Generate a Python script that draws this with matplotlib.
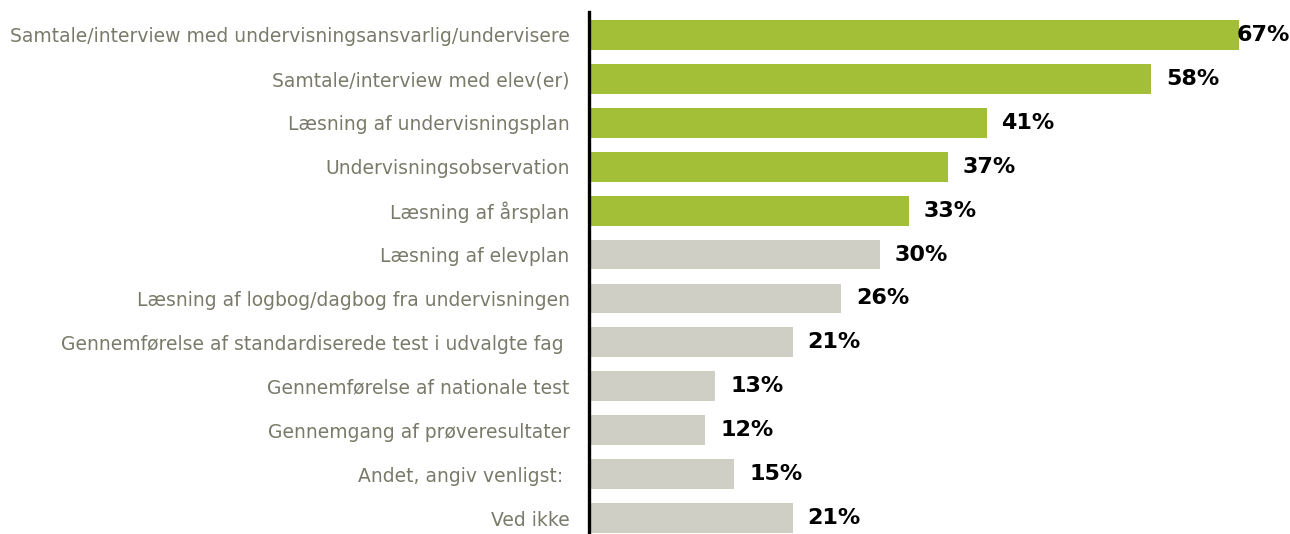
import numpy as np
import matplotlib.pyplot as plt

# data
categories = [
    "Samtale/interview med undervisningsansvarlig/undervisere",
    "Samtale/interview med elev(er)",
    "Læsning af undervisningsplan",
    "Undervisningsobservation",
    "Læsning af årsplan",
    "Læsning af elevplan",
    "Læsning af logbog/dagbog fra undervisningen",
    "Gennemførelse af standardiserede test i udvalgte fag ",
    "Gennemførelse af nationale test",
    "Gennemgang af prøveresultater",
    "Andet, angiv venligst: ",
    "Ved ikke",
]
values = [67, 58, 41, 37, 33, 30, 26, 21, 13, 12, 15, 21]
highlight = [True, True, True, True, True, False, False, False, False, False, False, False]

green = "#A2BF37"
grey = "#CFCFC6"
label_col = "#7A7A6A"

plt.rcParams['font.family'] = ['DejaVu Sans']

fig = plt.figure(figsize=(12.9, 5.34), dpi=100)
ax = fig.add_axes([589 / 1290, 0, 1 - 589 / 1290, 1 - 12 / 534])

y = np.arange(len(categories))
colors = [green if h else grey for h in highlight]
ax.barh(y, values, height=0.68, color=colors, zorder=2)

xmax = 72.3
ax.set_xlim(0, xmax)
ax.set_ylim(11.36, -0.52)

for yi, v in zip(y, values):
    if v + 7.5 > xmax:
        ax.text(xmax - 0.05, yi, f"{v}%", ha="right", va="center",
                fontsize=16, fontweight="bold", color="black", zorder=3)
    else:
        ax.text(v + 1.55, yi, f"{v}%", ha="left", va="center",
                fontsize=16, fontweight="bold", color="black", zorder=3)

ax.set_yticks(y)
ax.set_yticklabels(categories, fontsize=13.5, color=label_col)
ax.tick_params(axis="y", length=0, pad=14)
ax.set_xticks([])
for s in ["top", "right", "bottom"]:
    ax.spines[s].set_visible(False)
ax.spines["left"].set_linewidth(2.4)
ax.spines["left"].set_color("black")

fig.savefig("out.png", dpi=100)
